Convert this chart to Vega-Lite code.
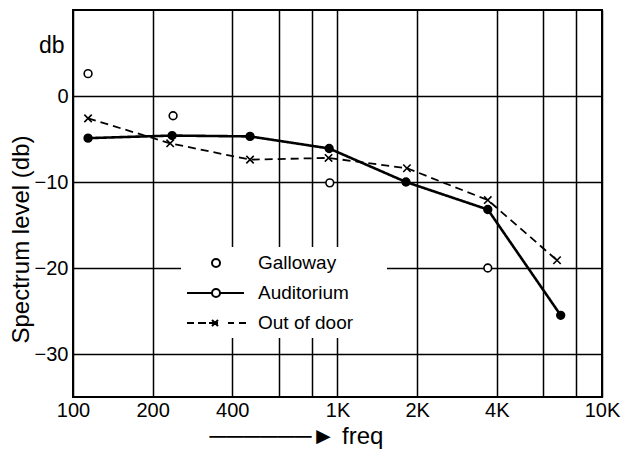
{
  "$schema": "https://vega.github.io/schema/vega-lite/v6.json",
  "width": 529,
  "height": 387,
  "autosize": "none",
  "padding": {"left": 73, "top": 10, "right": 22, "bottom": 57},
  "background": "white",
  "title": {
    "text": "db",
    "anchor": "start",
    "frame": "group",
    "orient": "top",
    "fontSize": 23,
    "fontWeight": "normal",
    "color": "black",
    "baseline": "alphabetic",
    "dx": -34,
    "dy": 70
  },
  "config": {
    "view": {"stroke": "black", "strokeWidth": 2},
    "font": "Liberation Sans"
  },
  "datasets": {
    "spectrum": [
      {"series": "Galloway", "freq": 114, "db": 2.6},
      {"series": "Galloway", "freq": 239, "db": -2.3},
      {"series": "Galloway", "freq": 935, "db": -10.1},
      {"series": "Galloway", "freq": 3700, "db": -20.0},
      {"series": "Auditorium", "freq": 114, "db": -4.9},
      {"series": "Auditorium", "freq": 237, "db": -4.6},
      {"series": "Auditorium", "freq": 467, "db": -4.7},
      {"series": "Auditorium", "freq": 930, "db": -6.1},
      {"series": "Auditorium", "freq": 1815, "db": -10.0},
      {"series": "Auditorium", "freq": 3700, "db": -13.2},
      {"series": "Auditorium", "freq": 6980, "db": -25.5},
      {"series": "Out of door", "freq": 114, "db": -2.6},
      {"series": "Out of door", "freq": 233, "db": -5.5},
      {"series": "Out of door", "freq": 467, "db": -7.4},
      {"series": "Out of door", "freq": 925, "db": -7.2},
      {"series": "Out of door", "freq": 1830, "db": -8.4},
      {"series": "Out of door", "freq": 3700, "db": -12.1},
      {"series": "Out of door", "freq": 6760, "db": -19.1}
    ]
  },
  "data": {"name": "spectrum"},
  "encoding": {
    "x": {
      "field": "freq",
      "type": "quantitative",
      "scale": {"type": "log", "domain": [100, 10000], "nice": false},
      "axis": {
        "values": [100, 200, 400, 600, 800, 1000, 2000, 4000, 6000, 8000, 10000],
        "labelExpr": "indexof([600,800,6000,8000], datum.value) >= 0 ? '' : (datum.value >= 1000 ? format(datum.value/1000,'d') + 'K' : format(datum.value,'d'))",
        "grid": true,
        "gridColor": "black",
        "gridWidth": 1.5,
        "gridOpacity": 1,
        "ticks": false,
        "domain": false,
        "labelOverlap": false,
        "labelFlush": false,
        "labelFontSize": 20,
        "labelColor": "black",
        "labelPadding": 3,
        "title": "──────► freq",
        "titleFontSize": 24,
        "titleFontWeight": "normal",
        "titleColor": "black",
        "titleX": 223,
        "titleY": 46,
        "titleAlign": "center",
        "titleBaseline": "alphabetic"
      }
    },
    "y": {
      "field": "db",
      "type": "quantitative",
      "scale": {"domain": [-35, 10], "nice": false, "zero": false},
      "axis": {
        "values": [-30, -20, -10, 0],
        "grid": true,
        "gridColor": "black",
        "gridWidth": 1.5,
        "gridOpacity": 1,
        "ticks": false,
        "domain": false,
        "labelFontSize": 20,
        "labelColor": "black",
        "labelPadding": 5,
        "labelFlush": false,
        "title": "Spectrum level (db)",
        "titleFontSize": 24,
        "titleFontWeight": "normal",
        "titleColor": "black",
        "titleAngle": -90,
        "titleX": -52,
        "titleY": 229,
        "titleAlign": "center",
        "titleBaseline": "middle"
      }
    }
  },
  "layer": [
    {
      "transform": [{"filter": "datum.series !== 'Galloway'"}],
      "mark": {"type": "line", "interpolate": "linear", "color": "black"},
      "encoding": {
        "detail": {"field": "series"},
        "strokeDash": {
          "field": "series",
          "type": "nominal",
          "scale": {"domain": ["Auditorium", "Out of door"], "range": [[1, 0], [8, 5]]},
          "legend": null
        },
        "strokeWidth": {
          "field": "series",
          "type": "nominal",
          "scale": {"domain": ["Auditorium", "Out of door"], "range": [2.6, 1.8]},
          "legend": null
        }
      }
    },
    {
      "transform": [{"filter": "datum.series !== 'Out of door'"}],
      "mark": {"type": "point", "shape": "circle", "strokeWidth": 1.6, "stroke": "black", "size": 60, "opacity": 1},
      "encoding": {
        "fill": {
          "field": "series",
          "type": "nominal",
          "scale": {"domain": ["Galloway", "Auditorium"], "range": ["white", "black"]},
          "legend": null
        }
      }
    },
    {
      "transform": [{"filter": "datum.series === 'Out of door'"}],
      "mark": {"type": "point", "shape": "M-1,-1L1,1M1,-1L-1,1", "strokeWidth": 1.6, "stroke": "black", "size": 55, "opacity": 1}
    },
    {
      "mark": {"type": "point", "opacity": 0, "filled": false, "stroke": "black"},
      "encoding": {
        "shape": {
          "field": "series",
          "type": "nominal",
          "scale": {
            "domain": ["Galloway", "Auditorium", "Out of door"],
            "range": [
              "M1.5,0A0.4,0.4,0,1,0,2.3,0A0.4,0.4,0,1,0,1.5,0Z",
              "M-1,0L1.5,0M2.3,0L4.7,0M1.5,0A0.4,0.4,0,1,0,2.3,0A0.4,0.4,0,1,0,1.5,0Z",
              "M-1,0L-0.3,0M0.1,0L0.9,0M1.2,0L2.1,0M3.1,0L3.7,0M4.2,0L4.9,0M1.5,-0.3L2.1,0.3M2.1,-0.3L1.5,0.3"
            ]
          },
          "legend": {
            "title": null,
            "orient": "none",
            "legendX": 108,
            "legendY": 237,
            "fillColor": "white",
            "strokeColor": null,
            "padding": 5,
            "symbolSize": 400,
            "symbolOpacity": 1,
            "symbolStrokeColor": "black",
            "symbolFillColor": "white",
            "symbolStrokeWidth": 2,
            "rowPadding": 9,
            "labelOffset": 50,
            "labelFontSize": 19,
            "labelColor": "black",
            "labelExpr": "datum.label + '\u2800\u2800'"
          }
        }
      }
    }
  ]
}
